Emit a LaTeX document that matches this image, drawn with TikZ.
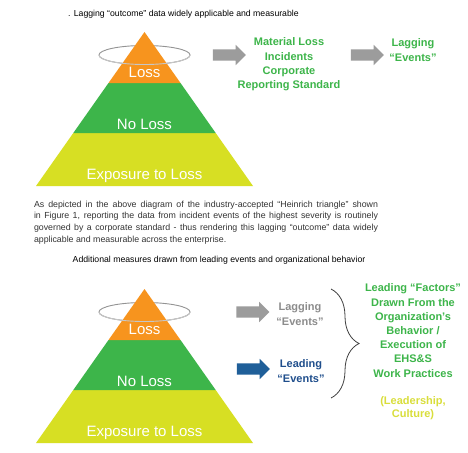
\documentclass[tikz,border=0pt]{standalone}
\usepackage{fontspec}
\setmainfont{Liberation Sans}
\usetikzlibrary{shapes.arrows,decorations.pathreplacing}
\definecolor{pyorange}{HTML}{F7941E}
\definecolor{pygreen}{HTML}{3DB54A}
\definecolor{pyyellow}{HTML}{D7DF23}
\definecolor{txtgreen}{HTML}{3DB54A}
\definecolor{txtyellow}{HTML}{D9DE3B}
\definecolor{arrgray}{HTML}{9C9C9C}
\definecolor{txtgray}{HTML}{8C8C8C}
\definecolor{arrblue}{HTML}{1F5F99}
\definecolor{txtblue}{HTML}{1F4E8C}
\begin{document}
\begin{tikzpicture}[x=1pt,y=-1pt,
    band/.style={text=white,font=\fontsize{15}{15}\selectfont},
    bigarrow/.style={single arrow,draw=none,inner sep=5.5pt,minimum height=33pt,
        single arrow head extend=4.5pt,single arrow head indent=0pt},
    boldtext/.style={align=center,font=\fontsize{11}{14.3}\selectfont\bfseries},
    small/.style={font=\fontsize{8.7}{10}\selectfont}]
\useasboundingbox (0,0) rectangle (468,452);
\fill[white] (0,0) rectangle (468,452);

% the two triangles
\foreach \dy/\n in {0/a,257/b}{
  \draw[gray!85,line width=0.9pt] (144.5,55+\dy) ellipse (45.5 and 9.5);
  \fill[pyyellow] (73.3,133+\dy) -- (215.7,133+\dy) -- (253,186+\dy) -- (36,186+\dy) -- cycle;
  \fill[pygreen] (108.5,83+\dy) -- (180.5,83+\dy) -- (215.7,133+\dy) -- (73.3,133+\dy) -- cycle;
  \fill[pyorange] (144.5,32+\dy) -- (180.5,83+\dy) -- (108.5,83+\dy) -- cycle;
  \draw[gray!45,line width=0.9pt] (99,55+\dy) arc[start angle=180,end angle=0,x radius=45.5,y radius=9.5];
  \node[band] (loss\n) at (144.5,72+\dy) {Loss};
  \node[band] (noloss\n) at (144.5,124+\dy) {No Loss};
  \node[band] (expo\n) at (144.5,176+\dy) {Exposure to Loss};
}

% upper part
\node[small,anchor=west,inner sep=0pt] (capA) at (68,14) {. Lagging “outcome” data widely applicable and measurable};
\node[bigarrow,fill=arrgray] (arrA) at (226.5,55) {};
\node[boldtext,text=txtgreen] (material) at (289,64.5) {Material Loss\\Incidents\\Corporate\\Reporting Standard};
\node[bigarrow,fill=arrgray] (arrB) at (364.5,55) {};
\node[boldtext,text=txtgreen] (laggingA) at (413,50) {Lagging\\“Events”};

\node[font=\fontsize{8.8}{11.7}\selectfont,text=black!80,text width=344pt,align=justify,inner sep=0pt] (para) at (206,222.5)
  {As depicted in the above diagram of the industry-accepted “Heinrich triangle” shown\linebreak
   in Figure 1, reporting the data from incident events of the highest severity is routinely\linebreak
   governed by a corporate standard - thus rendering this lagging “outcome” data widely\linebreak
   applicable and measurable across the enterprise.};
\node[small] (capB) at (219,260) {Additional measures drawn from leading events and organizational behavior};

% lower part
\node[bigarrow,fill=arrgray] (arrC) at (250,312) {};
\node[boldtext,text=txtgray] (laggingB) at (300,314) {Lagging\\“Events”};
\node[bigarrow,fill=arrblue] (arrD) at (250.5,369) {};
\node[boldtext,text=txtblue] (leading) at (301,371) {Leading\\“Events”};
\draw[black!75,line width=0.8pt,decorate,decoration={brace,amplitude=28pt,aspect=0.5}] (331,289) -- (331,398);
\node[boldtext,text=txtgreen,font=\fontsize{11}{14.2}\selectfont\bfseries] (factors) at (413,330.5)
  {Leading “Factors”\\Drawn From the\\Organization’s\\Behavior /\\Execution of\\EHS\&S\\Work Practices};
\node[boldtext,text=txtyellow,font=\fontsize{11}{13}\selectfont\bfseries] (culture) at (413,408.5) {(Leadership,\\Culture)};
\end{tikzpicture}
\end{document}
